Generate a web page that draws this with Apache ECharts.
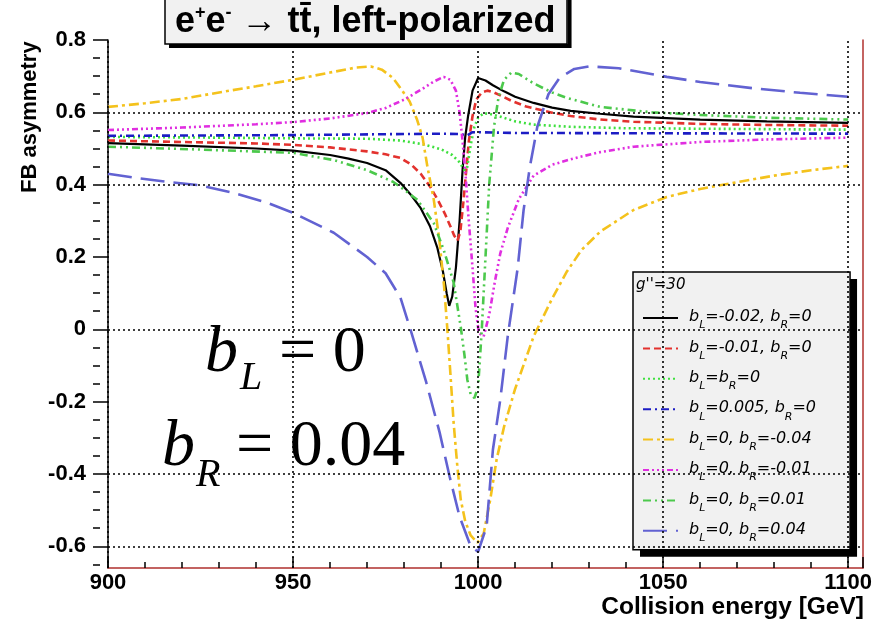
<!DOCTYPE html>
<html><head><meta charset="utf-8">
<script src="https://cdn.jsdelivr.net/npm/echarts@6/dist/echarts.min.js"></script>
<style>html,body{margin:0;padding:0;background:#fff}#c{width:885px;height:622px}</style>
</head><body><div id="c"></div>
<script>
// ---- data ----
const seriesNames = ['b_L=-0.02, b_R=0', 'b_L=-0.01, b_R=0', 'b_L=b_R=0', 'b_L=0.005, b_R=0',
  'b_L=0, b_R=-0.04', 'b_L=0, b_R=-0.01', 'b_L=0, b_R=0.01', 'b_L=0, b_R=0.04'];

const blackPts = [[900,0.515],[920,0.508],[940,0.500],[950,0.494],[960,0.482],[965,0.472],[970,0.460],[975,0.440],[979,0.405],[982,0.370],[984.5,0.335],[987,0.285],[989,0.225],[990.5,0.160],[991.5,0.100],[992.2,0.065],[993,0.090],[994,0.170],[995,0.300],[995.8,0.440],[996.5,0.530],[997.3,0.590],[998.5,0.660],[1000,0.695],[1002,0.688],[1004,0.675],[1007,0.658],[1010,0.643],[1015,0.626],[1020,0.613],[1025,0.604],[1033,0.596],[1042,0.588],[1051,0.584],[1060,0.580],[1078,0.575],[1100,0.571]];

const redPts = [[900,0.522],[920,0.518],[940,0.514],[950,0.510],[960,0.503],[970,0.492],[975,0.484],[979,0.474],[982,0.455],[984.5,0.430],[987,0.395],[989,0.360],[991,0.320],[992.5,0.285],[993.5,0.260],[994.4,0.245],[995.2,0.270],[996,0.350],[996.8,0.440],[997.5,0.520],[998.5,0.590],[999.5,0.635],[1001,0.655],[1002.5,0.660],[1004,0.656],[1006,0.647],[1009,0.632],[1013,0.616],[1020,0.599],[1025,0.590],[1033,0.580],[1042,0.574],[1060,0.568],[1078,0.565],[1100,0.563]];

const greenDotPts = [[900,0.532],[930,0.530],[950,0.528],[970,0.527],[979,0.522],[985,0.512],[990,0.498],[993,0.482],[995,0.462],[996.3,0.440],[997,0.445],[998,0.510],[999,0.560],[1000,0.585],[1001.5,0.597],[1003,0.596],[1006,0.588],[1010,0.575],[1015,0.566],[1025,0.560],[1040,0.556],[1070,0.554],[1100,0.552]];

const bluePts = [[900,0.535],[950,0.537],[980,0.540],[990,0.541],[995,0.540],[997,0.536],[998.5,0.545],[1000,0.545],[1010,0.543],[1050,0.542],[1100,0.541]];

const yellowPts = [[900,0.615],[910,0.625],[920,0.637],[930,0.655],[940,0.672],[950,0.690],[960,0.710],[967,0.724],[971,0.727],[974,0.718],[977,0.695],[979.5,0.660],[981.5,0.630],[983.5,0.580],[985,0.530],[986.3,0.450],[988,0.360],[989.5,0.250],[990.8,0.120],[991.7,0.000],[992.5,-0.120],[993.4,-0.260],[994.4,-0.380],[995.3,-0.470],[996.5,-0.530],[998,-0.570],[999.8,-0.590],[1001.5,-0.565],[1003.3,-0.470],[1005,-0.360],[1007,-0.270],[1010,-0.165],[1015,-0.020],[1020,0.085],[1024,0.160],[1028,0.220],[1033,0.270],[1042,0.330],[1051,0.366],[1060,0.388],[1069,0.405],[1080,0.425],[1090,0.440],[1100,0.452]];

const magentaPts = [[900,0.551],[920,0.558],[940,0.567],[950,0.573],[960,0.583],[970,0.598],[975,0.612],[980,0.635],[985,0.665],[988,0.685],[990.7,0.698],[992.5,0.690],[994,0.660],[995,0.600],[995.8,0.520],[996.6,0.430],[997.4,0.310],[998.5,0.170],[999.3,0.060],[1000.2,-0.010],[1001.5,-0.020],[1003,0.040],[1004.5,0.130],[1006,0.210],[1008,0.280],[1011,0.360],[1015,0.425],[1020,0.455],[1026,0.473],[1033,0.490],[1042,0.505],[1060,0.518],[1078,0.525],[1100,0.530]];

const greenDashPts = [[900,0.505],[925,0.497],[950,0.488],[961,0.468],[970,0.440],[977,0.408],[979,0.394],[983.6,0.358],[988,0.294],[990.7,0.220],[993.4,0.129],[995.3,0.007],[996.3,-0.070],[997.1,-0.140],[998,-0.180],[999,-0.190],[1000,-0.160],[1001,0.000],[1002,0.200],[1003,0.400],[1004.3,0.560],[1005.5,0.640],[1007,0.690],[1009,0.710],[1011,0.706],[1015,0.680],[1020,0.655],[1024,0.640],[1033,0.615],[1047,0.600],[1060,0.593],[1078,0.585],[1100,0.580]];

const slatePts = [[900,0.430],[908,0.418],[916,0.408],[925,0.398],[934,0.377],[943,0.350],[950,0.322],[961,0.267],[970,0.200],[975,0.155],[979,0.088],[982,-0.010],[986,-0.147],[989.6,-0.285],[992.3,-0.407],[995,-0.518],[998,-0.600],[1000,-0.615],[1002.3,-0.545],[1004,-0.333],[1006,-0.194],[1008,-0.020],[1010.7,0.170],[1012.3,0.330],[1014,0.450],[1016,0.560],[1019,0.650],[1022,0.695],[1026,0.720],[1030,0.727],[1038,0.722],[1051,0.698],[1060,0.684],[1074,0.667],[1087,0.654],[1100,0.643]];

const xRange = [900, 1104];
const yRange = [-0.66, 0.8];
const yMajorTicks = [-0.6, -0.4, -0.2, 0, 0.2, 0.4, 0.6, 0.8];
const yMinorTicks = [-0.65,-0.55,-0.5,-0.45,-0.35,-0.3,-0.25,-0.15,-0.1,-0.05,0.05,0.1,0.15,0.25,0.3,0.35,0.45,0.5,0.55,0.65,0.7,0.75];
const yGridValues = [0.6, 0.4, 0, -0.4, -0.6];
const xGridValues = [900, 950, 1000, 1050, 1100];

// ---- styles ----
const allPts = [blackPts, redPts, greenDotPts, bluePts, yellowPts, magentaPts, greenDashPts, slatePts];
const styles = [
  {color:'#000000', type:'solid', width:2.2},
  {color:'#e3322e', type:[7,4], width:2.6},
  {color:'#3fe03f', type:[2,3], width:2.6},
  {color:'#1c1cc4', type:[8,4,2,4], width:2.6},
  {color:'#f4c21c', type:[10,4,3,4], width:2.6},
  {color:'#e02ee0', type:[6,3,2,3,2,3,2,3], width:2.6},
  {color:'#4cc94c', type:[8,4,2,4,2,4], width:2.6},
  {color:'#6262d2', type:[24,9], width:2.6}
];

const chart = echarts.init(document.getElementById('c'), null, {renderer:'canvas'});

const series = allPts.map((pts, i) => ({
  name: seriesNames[i], type:'line', data: pts, symbol:'none', smooth:false,
  z: 3, clip: true,
  lineStyle: styles[i], itemStyle: {color: styles[i].color}
}));
series.unshift({
  name:'grid', type:'line', data: [], z: 1, silent: true,
  markLine: {
    silent: true, symbol: 'none', animation: false,
    label: {show:false},
    lineStyle: {type:[2,3], color:'#000', width:1.6},
    data: yGridValues.map(v => ({yAxis: v})).concat(xGridValues.map(v => ({xAxis: v})))
  }
});

const serif = 'Liberation Serif';
function bigLabel(sym, sub, rest, left, restLeft, top, subLeft, subTop) {
  return [
    {text: '{i|' + sym + '}', left: left, top: top, padding: 0, textStyle: {fontWeight:'normal',
      rich: {i: {fontFamily: serif, fontStyle:'italic', fontWeight:'normal', fontSize: 66, lineHeight: 66, color:'#000'}}}},
    {text: '{r|' + rest + '}', left: restLeft, top: top, padding: 0, textStyle: {fontWeight:'normal',
      rich: {r: {fontFamily: serif, fontWeight:'normal', fontSize: 66, lineHeight: 66, color:'#000'}}}},
    {text: '{s|' + sub + '}', left: subLeft, top: subTop, padding: 0, textStyle: {fontWeight:'normal',
      rich: {s: {fontFamily: serif, fontStyle:'italic', fontWeight:'normal', fontSize: 40, lineHeight: 40, color:'#000'}}}}
  ];
}

function mainTitle(layer) {
  const txtColor = layer === 'back' ? '#000' : 'rgba(0,0,0,0)';
  const t = {
    text: '{a|e}{s|+}{a|e}{s|-}{a| \u2192 t}{a|t\u0304}{a|, left-polarized}',
    left: 165, top: -6, padding: [6, 12, 4, 10],
    textStyle: {rich: {
      a: {fontFamily:'Liberation Sans', fontWeight:'bold', fontSize: 36, lineHeight: 40, color: txtColor, verticalAlign:'bottom'},
      s: {fontFamily:'Liberation Sans', fontWeight:'bold', fontSize: 18, lineHeight: 18, color: txtColor, verticalAlign:'top', padding:[4,0,0,0]}
    }}
  };
  if (layer === 'back') {
    Object.assign(t, {backgroundColor: '#f1f1f1', borderWidth: 0, shadowColor: '#000', shadowBlur: 0, shadowOffsetX: 4, shadowOffsetY: 4});
  } else {
    Object.assign(t, {backgroundColor: 'transparent', borderColor: '#000', borderWidth: 1.5});
  }
  return t;
}

const titles = [
  mainTitle('back'), mainTitle('front'),
  {
    text: "g''=30", left: 636, top: 278, padding: 0, z: 10,
    textStyle: {fontFamily:'DejaVu Sans', fontStyle:'italic', fontSize: 15, color:'#000', fontWeight:'normal'}
  },
  {
    text: 'Collision energy [GeV]', right: 21, top: 595, padding: 0,
    textStyle: {fontFamily:'Liberation Sans', fontWeight:'bold', fontSize: 24.5, color:'#000'}
  }
].concat(bigLabel('b', 'L', '= 0', 205, 279, 321, 240, 358))
 .concat(bigLabel('b', 'R', '= 0.04', 162, 236, 415, 196, 455));

function legendLayer(layer) {
  const back = layer === 'back';
  const txt = back ? '#000' : 'rgba(0,0,0,0)';
  const lg = {
    data: seriesNames, orient: 'vertical', left: 633, top: 272,
    padding: [37, 34, 6, 9], itemGap: 8.4, itemWidth: 35, itemHeight: 14,
    selectedMode: false,
    itemStyle: {opacity: 0},
    formatter: function (name) {
      return '{g|}' + name.split(/b_([LR])/).map((p, k) => k % 2 ? '{t|b}{s|' + p + '}' : (p ? '{t|' + p + '}' : '')).join('');
    },
    textStyle: {
      rich: {
        g: {width: 6},
        t: {fontFamily:'DejaVu Sans', fontStyle:'italic', fontSize: 16, lineHeight: 18, color: txt, verticalAlign:'top'},
        s: {fontFamily:'DejaVu Sans', fontStyle:'italic', fontSize: 11, lineHeight: 11, color: txt, verticalAlign:'top', padding:[11,0,0,0]}
      }
    }
  };
  if (back) {
    Object.assign(lg, {backgroundColor: '#f1f1f1', borderWidth: 0, shadowColor: '#000', shadowBlur: 0, shadowOffsetX: 7, shadowOffsetY: 7, z: 4});
  } else {
    Object.assign(lg, {backgroundColor: 'transparent', borderColor: '#000', borderWidth: 1.5, z: 5, lineStyle: {opacity: 0}});
  }
  return lg;
}

const option = {
  backgroundColor: '#ffffff',
  animation: false,
  title: titles,
  grid: {left: 108, right: 22, top: 40, bottom: 54, containLabel: false},
  legend: [legendLayer('back'), legendLayer('front')],
  xAxis: {
    type: 'value', min: xRange[0], max: xRange[1], interval: 50,
    axisLine: {show: true, onZero: false, lineStyle: {color:'#b0302e', width: 1.5}},
    axisTick: {show: true, inside: true, length: 11, lineStyle: {color:'#000', width: 1.5}},
    minorTick: {show: true, splitNumber: 5, length: 6, lineStyle: {color:'#000', width: 1.5}},
    splitLine: {show: false}, minorSplitLine: {show: false},
    axisLabel: {showMaxLabel: false, margin: 4, fontFamily:'Liberation Sans', fontWeight:'bold', fontSize: 22, color:'#000',
      formatter: v => String(v)}
  },
  yAxis: [
    {
      type: 'value', min: yRange[0], max: yRange[1], position: 'left',
      axisLine: {show: true, onZero: false, lineStyle: {color:'#000', width: 1.5}},
      axisTick: {show: true, inside: false, length: 15, customValues: yMajorTicks, lineStyle: {color:'#000', width: 1.5}},
      splitLine: {show: false},
      axisLabel: {customValues: yMajorTicks, margin: 22, fontFamily:'Liberation Sans', fontWeight:'bold', fontSize: 22, color:'#000',
        formatter: v => String(Math.round(v * 10) / 10)}
    },
    {
      type: 'value', min: yRange[0], max: yRange[1], position: 'left', offset: 8,
      axisLine: {show: false, onZero: false},
      axisTick: {show: true, inside: false, length: 7, customValues: yMinorTicks, lineStyle: {color:'#000', width: 1.5}},
      splitLine: {show: false}, axisLabel: {show: false}
    },
    {
      type: 'value', min: yRange[0], max: yRange[1], position: 'right',
      axisLine: {show: true, onZero: false, lineStyle: {color:'#b0302e', width: 1.5}},
      axisTick: {show: false}, splitLine: {show: false}, axisLabel: {show: false}
    }
  ],
  graphic: [{
    type: 'text', x: 30, y: 193, rotation: Math.PI / 2, z: 100,
    style: {text: 'FB asymmetry', font: 'bold 22px "Liberation Sans"', fill: '#000', textAlign: 'left', textVerticalAlign: 'middle'}
  }],
  series: series
};
chart.setOption(option);
</script>
</body></html>
